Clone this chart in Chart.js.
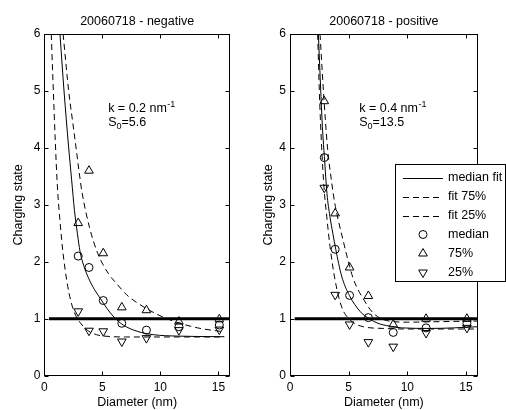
<!DOCTYPE html>
<html><head><meta charset="utf-8">
<script src="https://cdn.jsdelivr.net/npm/chart.js@4/dist/chart.umd.min.js"></script>
<style>
html,body{margin:0;padding:0;background:#fff;}
#wrap{position:relative;width:506px;height:410px;overflow:hidden;background:#fff;}
#c1{position:absolute;left:0;top:0;width:250px;height:410px;}
#c2{position:absolute;left:250px;top:0;width:256px;height:410px;}
</style></head><body>
<div id="wrap"><canvas id="c1" width="250" height="410"></canvas><canvas id="c2" width="256" height="410"></canvas></div>
<script>
// ---- tick labels ----
const xTicks = [0, 5, 10, 15];
const yTicks = [0, 1, 2, 3, 4, 5, 6];

// ---- measured points (diameter, nm) ----
const diameters = [2.92, 3.85, 5.08, 6.68, 8.8, 11.6, 15.08];

// negative polarity
const negMedian = [2.1, 1.9, 1.32, 0.92, 0.8, 0.86, 0.89];
const neg75 = [2.68, 3.6, 2.15, 1.2, 1.15, 0.95, 0.99];
const neg25 = [1.13, 0.79, 0.78, 0.6, 0.66, 0.8, 0.81];

// positive polarity
const posMedian = [3.83, 2.22, 1.41, 1.02, 0.76, 0.84, 0.92];
const pos75 = [4.82, 2.85, 1.9, 1.4, 0.9, 1.0, 1.0];
const pos25 = [3.3, 1.42, 0.9, 0.59, 0.51, 0.75, 0.84];

// ---- fitted curves ----
const negFitMedX = [1.35, 1.7, 2.08, 2.35, 2.6, 2.85, 3.08, 3.4, 3.8, 4.3, 4.85, 5.4, 6.0, 6.8, 8.0, 9.4, 11.5, 15.5];
const negFitMedY = [6.0, 5.0, 4.05, 3.45, 2.9, 2.5, 2.18, 1.93, 1.72, 1.52, 1.35, 1.18, 1.03, 0.89, 0.78, 0.72, 0.695, 0.685];
const negFit75X = [1.62, 2.1, 2.45, 2.75, 3.0, 3.25, 3.9, 4.6, 5.5, 6.3, 7.1, 8.0, 9.7, 11.1, 13.2, 15.5];
const negFit75Y = [6.0, 5.0, 4.45, 3.98, 3.58, 3.22, 2.6, 2.15, 1.8, 1.6, 1.42, 1.28, 1.08, 0.96, 0.84, 0.77];
const negFit25X = [0.6, 0.78, 0.95, 1.12, 1.35, 1.6, 1.95, 2.3, 2.7, 3.1, 3.7, 4.5, 5.5, 7.0, 15.5];
const negFit25Y = [6.0, 5.0, 4.1, 3.35, 2.72, 2.18, 1.65, 1.3, 1.06, 0.93, 0.8, 0.72, 0.69, 0.68, 0.68];

const posFitMedX = [2.42, 2.62, 2.78, 2.93, 3.15, 3.4, 3.65, 3.9, 4.4, 5.06, 5.97, 6.68, 7.5, 8.5, 9.5, 12, 14, 16];
const posFitMedY = [6.0, 5.0, 4.3, 3.85, 3.2, 2.8, 2.5, 2.22, 1.75, 1.41, 1.13, 1.01, 0.92, 0.87, 0.84, 0.83, 0.84, 0.86];
const posFit75X = [2.56, 2.85, 3.2, 3.55, 3.8, 4.15, 4.5, 4.83, 5.4, 6.3, 7.1, 8.2, 10, 13, 16];
const posFit75Y = [6.0, 5.0, 4.0, 3.4, 3.05, 2.7, 2.4, 2.12, 1.7, 1.33, 1.1, 0.97, 0.94, 0.95, 0.96];
const posFit25X = [2.36, 2.5, 2.7, 2.9, 3.13, 3.41, 3.84, 4.4, 5.12, 6.25, 8, 10, 16];
const posFit25Y = [6.0, 5.0, 4.0, 3.3, 2.8, 2.27, 1.68, 1.21, 0.98, 0.86, 0.83, 0.82, 0.82];

// reference line at charging state 1
const refLineX = [0.4, 16];
const refLineY = [1, 1];

const FONT = "'Liberation Sans', Arial, Helvetica, sans-serif";
const pts = (xs, ys) => xs.map((x, i) => ({x: x, y: ys[i]}));

function buildDatasets(fm, f75, f25, med, p75, p25) {
  const line = {showLine: true, pointRadius: 0, borderColor: '#000', borderWidth: 1, cubicInterpolationMode: 'monotone', fill: false};
  const mark = {showLine: false, borderColor: '#000', pointBorderColor: '#000', backgroundColor: 'rgba(0,0,0,0)', pointBackgroundColor: 'rgba(0,0,0,0)', pointBorderWidth: 1};
  return [
    Object.assign({label: 'median fit', data: pts(fm[0], fm[1])}, line),
    Object.assign({label: 'fit 75%', data: pts(f75[0], f75[1]), borderDash: [6, 4]}, line),
    Object.assign({label: 'fit 25%', data: pts(f25[0], f25[1]), borderDash: [6, 4]}, line),
    Object.assign({label: 'median', data: pts(diameters, med), pointStyle: 'circle', pointRadius: 4}, mark),
    Object.assign({label: '75%', data: pts(diameters, p75), pointStyle: 'triangle', pointRadius: 5, pointRotation: 0}, mark),
    Object.assign({label: '25%', data: pts(diameters, p25), pointStyle: 'triangle', pointRadius: 5, pointRotation: 180}, mark),
    {label: '', data: pts(refLineX, refLineY), showLine: true, pointRadius: 0, borderColor: '#000', borderWidth: 3, inLegend: false}
  ];
}

function decoPlugin(cfg) {
  return {
    id: 'deco',
    afterDatasetsDraw(chart) {
      const {ctx, chartArea: a, scales: {x, y}} = chart;
      ctx.save();
      ctx.strokeStyle = '#000';
      ctx.lineWidth = 1;
      ctx.setLineDash([]);
      const L = Math.round(a.left) + 0.5, R = Math.round(a.right) - 0.5, T = Math.round(a.top) + 0.5, B = Math.round(a.bottom) - 0.5;
      ctx.strokeRect(L, T, R - L, B - T);
      ctx.beginPath();
      xTicks.forEach(v => {
        const px = Math.round(x.getPixelForValue(v)) + 0.5;
        ctx.moveTo(px, B); ctx.lineTo(px, B - 4);
        ctx.moveTo(px, T); ctx.lineTo(px, T + 4);
      });
      yTicks.forEach(v => {
        const py = Math.round(y.getPixelForValue(v)) + 0.5;
        ctx.moveTo(L, py); ctx.lineTo(L + 4, py);
        ctx.moveTo(R, py); ctx.lineTo(R - 4, py);
      });
      ctx.stroke();
      ctx.restore();
    },
    afterDraw(chart) {
      const {ctx, chartArea: a, scales: {x, y}} = chart;
      ctx.save();
      ctx.fillStyle = '#000';
      // title
      ctx.font = '12.5px ' + FONT;
      ctx.textAlign = 'center';
      ctx.textBaseline = 'alphabetic';
      ctx.fillText(cfg.title, (a.left + a.right) / 2, 25);
      // annotation
      ctx.textAlign = 'left';
      const ax = x.getPixelForValue(cfg.annoX), ay = y.getPixelForValue(cfg.annoY);
      ctx.font = '12.5px ' + FONT;
      ctx.fillText(cfg.kText, ax, ay);
      let w = ctx.measureText(cfg.kText).width;
      ctx.font = '9px ' + FONT;
      ctx.fillText('-1', ax + w + 0.5, ay - 5.5);
      ctx.font = '12.5px ' + FONT;
      ctx.fillText('S', ax, ay + 14);
      const ws = ctx.measureText('S').width;
      ctx.font = '9px ' + FONT;
      ctx.fillText('0', ax + ws, ay + 17);
      const w0 = ctx.measureText('0').width;
      ctx.font = '12.5px ' + FONT;
      ctx.fillText(cfg.sText, ax + ws + w0, ay + 14);
      // legend
      if (cfg.legend) {
        const lg = cfg.legend;
        ctx.fillStyle = '#fff';
        ctx.fillRect(lg.x, lg.y, lg.w, lg.h);
        ctx.strokeStyle = '#000';
        ctx.lineWidth = 1;
        ctx.strokeRect(lg.x + 0.5, lg.y + 0.5, lg.w - 1, lg.h - 1);
        const items = chart.data.datasets.filter(d => d.inLegend !== false);
        items.forEach((d, i) => {
          const cy = lg.y + 13.5 + i * 19;
          ctx.strokeStyle = '#000';
          ctx.lineWidth = 1;
          if (d.showLine) {
            ctx.setLineDash(d.borderDash || []);
            ctx.beginPath();
            ctx.moveTo(lg.x + 8, Math.round(cy) + 0.5);
            ctx.lineTo(lg.x + 48, Math.round(cy) + 0.5);
            ctx.stroke();
            ctx.setLineDash([]);
          } else {
            ctx.fillStyle = 'rgba(0,0,0,0)';
            Chart.helpers.drawPoint(ctx, {pointStyle: d.pointStyle, radius: d.pointRadius, rotation: d.pointRotation || 0, borderWidth: 1}, lg.x + 28, cy);
          }
          ctx.fillStyle = '#000';
          ctx.font = '12.5px ' + FONT;
          ctx.textAlign = 'left';
          ctx.textBaseline = 'middle';
          ctx.fillText(d.label, lg.x + 53, cy);
        });
      }
      ctx.restore();
    }
  };
}

function makeChart(id, cfg) {
  const tickFont = {family: FONT, size: 12};
  const titleFont = {family: FONT, size: 12.5};
  return new Chart(document.getElementById(id), {
    type: 'scatter',
    data: {datasets: cfg.datasets},
    options: {
      responsive: false,
      animation: false,
      events: [],
      devicePixelRatio: 1,
      layout: {padding: {top: 34, right: cfg.padRight, bottom: 0, left: 0}},
      plugins: {legend: {display: false}, tooltip: {enabled: false}, title: {display: false}},
      scales: {
        x: {
          type: 'linear', min: 0, max: 16,
          afterBuildTicks: s => { s.ticks = xTicks.map(v => ({value: v})); },
          afterFit: s => { s.height = 34.3; },
          grid: {display: false, drawTicks: false},
          border: {display: false},
          ticks: {font: tickFont, color: '#000', padding: 5, maxRotation: 0, callback: v => String(v)},
          title: {display: true, text: 'Diameter (nm)', font: titleFont, color: '#000', padding: {top: 0, bottom: 0}}
        },
        y: {
          type: 'linear', min: 0, max: 6,
          afterBuildTicks: s => { s.ticks = yTicks.map(v => ({value: v})); },
          afterFit: s => { s.width = cfg.yWidth; },
          grid: {display: false, drawTicks: false},
          border: {display: false},
          ticks: {font: tickFont, color: '#000', padding: 4, callback: v => String(v)},
          title: {display: true, text: 'Charging state', font: titleFont, color: '#000', padding: {top: cfg.yTitlePad, bottom: 0}}
        }
      }
    },
    plugins: [decoPlugin(cfg)]
  });
}

makeChart('c1', {
  datasets: buildDatasets([negFitMedX, negFitMedY], [negFit75X, negFit75Y], [negFit25X, negFit25Y], negMedian, neg75, neg25),
  padRight: 20, yWidth: 44.3, yTitlePad: 11,
  title: '20060718 - negative', annoX: 5.5, annoY: 4.63, kText: 'k = 0.2 nm', sText: '=5.6'
});
makeChart('c2', {
  datasets: buildDatasets([posFitMedX, posFitMedY], [posFit75X, posFit75Y], [posFit25X, posFit25Y], posMedian, pos75, pos25),
  padRight: 28.3, yWidth: 40, yTitlePad: 11,
  title: '20060718 - positive', annoX: 5.9, annoY: 4.63, kText: 'k = 0.4 nm', sText: '=13.5',
  legend: {x: 145, y: 164, w: 111, h: 118}
});
</script>
</body></html>
